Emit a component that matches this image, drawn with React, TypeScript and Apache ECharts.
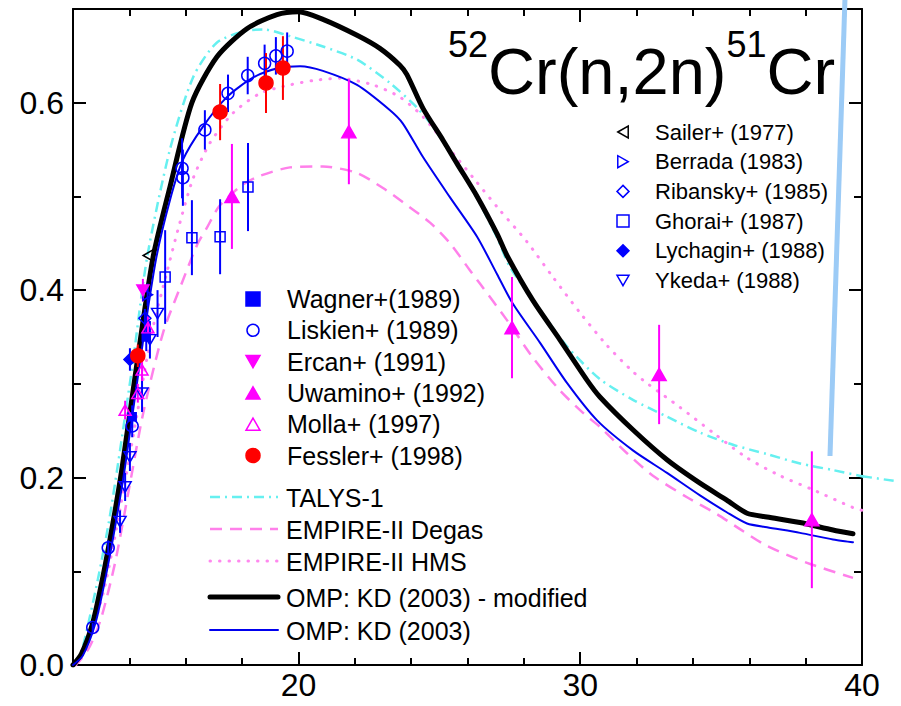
import React, { useEffect, useRef } from "react";
import * as echarts from "echarts";

const FONT = '"Liberation Sans", Arial, Helvetica, sans-serif';

// ---- axis ticks ----
const xTickMajor = [20, 30, 40];
const xTickMinor = [14, 16, 18, 22, 24, 26, 28, 32, 34, 36, 38];
const yTickMajor = [0, 0.2, 0.4, 0.6];
const yTickMinor = [0.1, 0.3, 0.5];

// ---- title ----
const titleParts = ["52", "Cr(n,2n)", "51", "Cr"];

// ---- evaluated curves [E (MeV), sigma (b)] ----
const talys = [[12.0,0],[12.3,0.015],[12.55,0.045],[12.9,0.094],[13.27,0.152],[13.6,0.215],[14.12,0.322],[14.63,0.435],[15.44,0.55],[16.26,0.627],[17.1,0.664],[18.17,0.677],[18.8,0.678],[19.7,0.671],[20.87,0.66],[22.08,0.646],[23.25,0.621],[24.2,0.595],[24.78,0.574],[25.63,0.536],[26.34,0.498],[27.05,0.456],[27.5,0.425],[28.57,0.379],[29.53,0.34],[30.7,0.305],[31.87,0.283],[33.08,0.265],[34.25,0.248],[35.42,0.235],[36.63,0.225],[37.8,0.215],[38.97,0.208],[40.0,0.2015],[41.24,0.196]];
const empireDegas = [[12.0,0],[12.2,0.003],[12.6,0.02],[13.0,0.05],[13.5,0.11],[14.0,0.19],[14.5,0.27],[15.2,0.355],[15.83,0.405],[16.4,0.448],[16.76,0.467],[17.2,0.49],[18.0,0.512],[18.64,0.522],[19.7,0.531],[20.87,0.532],[22.08,0.525],[23.0,0.509],[23.7,0.494],[24.67,0.472],[25.38,0.45],[26.09,0.421],[26.44,0.407],[27.4,0.368],[28.32,0.328],[29.28,0.293],[30.1,0.269],[30.7,0.254],[31.66,0.226],[32.58,0.202],[33.79,0.179],[34.85,0.161],[35.67,0.145],[36.63,0.127],[38.05,0.109],[39.68,0.093]];
const empireHms = [[12.1,0],[12.6,0.03],[13.1,0.08],[13.6,0.155],[14.2,0.255],[14.8,0.355],[15.34,0.42],[15.73,0.465],[16.26,0.519],[16.86,0.557],[17.68,0.589],[18.64,0.61],[19.7,0.619],[20.6,0.624],[21.47,0.626],[22.65,0.619],[23.6,0.606],[24.42,0.585],[25.38,0.55],[26.2,0.52],[27.1,0.487],[28.1,0.452],[29.03,0.414],[29.99,0.376],[30.95,0.341],[31.87,0.313],[32.4,0.3],[33.54,0.275],[34.71,0.248],[35.92,0.221],[37.09,0.202],[38.26,0.187],[39.68,0.168],[40.0,0.165]];
const ompModified = [[12.0,0],[12.3,0.012],[12.7,0.045],[13.06,0.094],[13.42,0.152],[13.74,0.21],[14.27,0.322],[14.84,0.435],[15.44,0.51],[16.22,0.6],[17.11,0.649],[18.17,0.679],[19.24,0.694],[20.0,0.697],[20.87,0.689],[22.08,0.672],[22.89,0.658],[23.6,0.64],[23.85,0.63],[24.42,0.594],[25.13,0.56],[25.63,0.535],[26.34,0.5],[27.05,0.46],[27.4,0.437],[28.32,0.389],[29.28,0.347],[30.24,0.304],[30.7,0.286],[31.87,0.251],[33.08,0.219],[34.25,0.194],[35.2,0.176],[35.92,0.162],[36.63,0.158],[37.8,0.152],[38.97,0.144],[39.68,0.14]];
const ompKd = [[12.0,0],[12.35,0.01],[12.8,0.045],[13.16,0.094],[13.52,0.152],[13.84,0.21],[14.37,0.322],[14.94,0.432],[15.44,0.496],[15.9,0.539],[16.6,0.574],[17.46,0.606],[18.4,0.627],[19.3,0.637],[20.06,0.639],[20.87,0.634],[22.08,0.619],[23.25,0.592],[23.7,0.578],[24.42,0.542],[25.38,0.499],[26.34,0.457],[27.05,0.417],[27.6,0.386],[28.57,0.344],[29.53,0.301],[30.6,0.261],[31.87,0.229],[33.08,0.205],[34.25,0.181],[35.2,0.163],[35.92,0.151],[36.63,0.147],[37.8,0.141],[38.97,0.134],[39.68,0.131]];

// ---- measurements [E, sigma, error] ----
const sailer = [[14.66, 0.437, 0]];
const berrada = [[14.65, 0.395, 0.012]];
const ribansky = [[14.55, 0.37, 0.01]];
const ghorai = [[15.27, 0.414, 0.05],[16.22, 0.456, 0.04],[17.22, 0.457, 0.04],[18.21, 0.51, 0.047]];
const lychagin = [[14.02, 0.326, 0.012]];
const ykeda = [[13.67, 0.153, 0.012],[13.85, 0.19, 0.015],[14.02, 0.222, 0.015],[14.45, 0.29, 0.02],[14.73, 0.347, 0.02],[15.0, 0.375, 0.025]];
const wagner = [[14.1, 0.265, 0.012],[14.6, 0.35, 0.015]];
const liskien = [[12.7, 0.04, 0.005],[13.25, 0.125, 0.008],[14.1, 0.255, 0.012],[15.87, 0.53, 0.032],[15.9, 0.52, 0.03],[16.68, 0.571, 0.021],[17.5, 0.61, 0.02],[18.2, 0.629, 0.02],[18.8, 0.642, 0.02],[19.2, 0.65, 0.02],[19.6, 0.655, 0.02]];
const ercan = [[14.48, 0.4, 0.012]];
const uwamino = [[17.64, 0.5, 0.056],[21.79, 0.569, 0.056],[27.58, 0.36, 0.054],[32.8, 0.31, 0.053],[38.22, 0.155, 0.073]];
const molla = [[13.85, 0.272, 0.01],[14.3, 0.29, 0.01],[14.45, 0.315, 0.012],[14.66, 0.36, 0.012]];
const fessler = [[14.3, 0.33, 0.012],[17.22, 0.59, 0.03],[18.85, 0.621, 0.032],[19.45, 0.637, 0.034]];

// ---- legend labels ----
const rightLegendNames = ["Sailer+ (1977)", "Berrada (1983)", "Ribansky+ (1985)", "Ghorai+ (1987)", "Lychagin+ (1988)", "Ykeda+ (1988)"];
const leftLegendNames = ["Wagner+(1989)", "Liskien+ (1989)", "Ercan+ (1991)", "Uwamino+ (1992)", "Molla+ (1997)", "Fessler+ (1998)"];
const curveNames = ["TALYS-1", "EMPIRE-II Degas", "EMPIRE-II HMS", "OMP: KD (2003) - modified", "OMP: KD (2003)"];

const BLUE = "#0000ff";
const MAG = "#ff00ff";
const RED = "#ff0000";

type Shape = "circle" | "square" | "diamond" | "triUp" | "triDown" | "triLeft" | "triRight";

const expSets: { name: string; data: number[][]; shape: Shape; filled: boolean; color: string; size: number }[] = [
  { name: rightLegendNames[0], data: sailer, shape: "triLeft", filled: false, color: "#000000", size: 11 },
  { name: rightLegendNames[1], data: berrada, shape: "triRight", filled: false, color: BLUE, size: 11 },
  { name: rightLegendNames[2], data: ribansky, shape: "diamond", filled: false, color: BLUE, size: 12 },
  { name: rightLegendNames[3], data: ghorai, shape: "square", filled: false, color: BLUE, size: 10 },
  { name: rightLegendNames[4], data: lychagin, shape: "diamond", filled: true, color: BLUE, size: 12 },
  { name: rightLegendNames[5], data: ykeda, shape: "triDown", filled: false, color: BLUE, size: 12 },
  { name: leftLegendNames[0], data: wagner, shape: "square", filled: true, color: BLUE, size: 8 },
  { name: leftLegendNames[1], data: liskien, shape: "circle", filled: false, color: BLUE, size: 12 },
  { name: leftLegendNames[2], data: ercan, shape: "triDown", filled: true, color: MAG, size: 12 },
  { name: leftLegendNames[3], data: uwamino, shape: "triUp", filled: true, color: MAG, size: 14 },
  { name: leftLegendNames[4], data: molla, shape: "triUp", filled: false, color: MAG, size: 12 },
  { name: leftLegendNames[5], data: fessler, shape: "circle", filled: true, color: RED, size: 14 },
];

const curveSets = [
  { name: curveNames[0], data: talys, color: "#66f0f0", width: 2.5, dash: [10, 5, 2, 5] as any, cap: "butt" },
  { name: curveNames[1], data: empireDegas, color: "#ff80ea", width: 2.5, dash: [12, 8] as any, cap: "butt" },
  { name: curveNames[2], data: empireHms, color: "#ff88ee", width: 3, dash: [0.5, 9] as any, cap: "round" },
  { name: curveNames[3], data: ompModified, color: "#000000", width: 5, dash: "solid" as any, cap: "round" },
  { name: curveNames[4], data: ompKd, color: "#0000ee", width: 2, dash: "solid" as any, cap: "round" },
];

function ecSymbol(shape: Shape): { symbol: string; rotate: number; wr: number } {
  switch (shape) {
    case "circle": return { symbol: "circle", rotate: 0, wr: 1 };
    case "square": return { symbol: "rect", rotate: 0, wr: 1 };
    case "diamond": return { symbol: "diamond", rotate: 0, wr: 1 };
    case "triUp": return { symbol: "triangle", rotate: 0, wr: 0.87 };
    case "triDown": return { symbol: "triangle", rotate: 180, wr: 0.87 };
    case "triLeft": return { symbol: "triangle", rotate: 90, wr: 0.87 };
    case "triRight": return { symbol: "triangle", rotate: -90, wr: 0.87 };
  }
}

function legendSymbol(shape: Shape, filled: boolean, color: string, cx: number, cy: number, s: number) {
  const style = { fill: filled ? color : "rgba(0,0,0,0)", stroke: color, lineWidth: 1.5 };
  const h = s * 0.87;
  const r = s / 2;
  if (shape === "circle") return { type: "circle", shape: { cx, cy, r }, style, z: 50 };
  if (shape === "square") return { type: "rect", shape: { x: cx - r, y: cy - r, width: s, height: s }, style, z: 50 };
  let pts: number[][] = [];
  if (shape === "diamond") pts = [[cx, cy - r], [cx + r, cy], [cx, cy + r], [cx - r, cy]];
  if (shape === "triUp") pts = [[cx, cy - h / 2], [cx + r, cy + h / 2], [cx - r, cy + h / 2]];
  if (shape === "triDown") pts = [[cx, cy + h / 2], [cx + r, cy - h / 2], [cx - r, cy - h / 2]];
  if (shape === "triLeft") pts = [[cx - h / 2, cy], [cx + h / 2, cy - r], [cx + h / 2, cy + r]];
  if (shape === "triRight") pts = [[cx + h / 2, cy], [cx - h / 2, cy - r], [cx - h / 2, cy + r]];
  return { type: "polygon", shape: { points: pts }, style, z: 50 };
}

function textEl(text: string, x: number, y: number, size: number) {
  return {
    type: "text", x, y, z: 50,
    style: { text, fontSize: size, fontFamily: FONT, fill: "#000", align: "left", verticalAlign: "middle", textAlign: "left", textVerticalAlign: "middle" },
  };
}

export default function App() {
  const ref = useRef<HTMLDivElement>(null);
  useEffect(() => {
    if (!ref.current) return;
    const chart = echarts.init(ref.current, undefined, { renderer: "svg" });

    const axisLineStyle = { color: "#000", width: 2 };
    const xBase = { type: "value", min: 12, max: 40, splitLine: { show: false }, gridIndex: 0 };
    const yBase = { type: "value", min: 0, max: 0.7, splitLine: { show: false }, gridIndex: 0 };
    const tick = (vals: number[], len: number) => ({ show: true, inside: true, length: len, customValues: vals, lineStyle: { color: "#000", width: 2 } });

    const xAxis = [
      { ...xBase, position: "bottom", axisLine: { show: true, onZero: false, lineStyle: axisLineStyle }, axisTick: tick(xTickMajor, 13),
        axisLabel: { show: true, customValues: xTickMajor, fontSize: 32, fontFamily: FONT, color: "#000", margin: 4, formatter: (v: number) => String(v) } },
      { ...xBase, position: "bottom", axisLine: { show: false, onZero: false }, axisTick: tick(xTickMinor, 7), axisLabel: { show: false } },
      { ...xBase, position: "top", axisLine: { show: true, onZero: false, lineStyle: axisLineStyle }, axisTick: tick(xTickMajor, 13), axisLabel: { show: false } },
      { ...xBase, position: "top", axisLine: { show: false, onZero: false }, axisTick: tick(xTickMinor, 7), axisLabel: { show: false } },
    ];
    const yAxis = [
      { ...yBase, position: "left", axisLine: { show: true, onZero: false, lineStyle: axisLineStyle }, axisTick: tick(yTickMajor, 13),
        axisLabel: { show: true, customValues: yTickMajor, fontSize: 32, fontFamily: FONT, color: "#000", margin: 9, formatter: (v: number) => v.toFixed(1) } },
      { ...yBase, position: "left", axisLine: { show: false, onZero: false }, axisTick: tick(yTickMinor, 8), axisLabel: { show: false } },
      { ...yBase, position: "right", axisLine: { show: true, onZero: false, lineStyle: axisLineStyle }, axisTick: tick(yTickMajor, 13), axisLabel: { show: false } },
      { ...yBase, position: "right", axisLine: { show: false, onZero: false }, axisTick: tick(yTickMinor, 8), axisLabel: { show: false } },
    ];

    const series: any[] = [];
    curveSets.forEach((c) => {
      series.push({
        type: "line", name: c.name, data: c.data, xAxisIndex: 0, yAxisIndex: 0,
        showSymbol: false, symbol: "none", smooth: 0.25, clip: true, z: 2,
        lineStyle: { color: c.color, width: c.width, type: c.dash, cap: c.cap, join: "round" },
      });
    });
    expSets.forEach((s) => {
      series.push({
        type: "custom", name: s.name + " err", data: s.data, xAxisIndex: 0, yAxisIndex: 0, silent: true, z: 4,
        encode: { x: 0, y: 1 },
        renderItem: (_p: any, api: any) => {
          const x = api.value(0), y = api.value(1), e = api.value(2);
          if (!e) return { type: "group", children: [] };
          const p1 = api.coord([x, y - e]);
          const p2 = api.coord([x, y + e]);
          return { type: "line", shape: { x1: p1[0], y1: p1[1], x2: p2[0], y2: p2[1] }, style: { stroke: s.color, lineWidth: 2 } };
        },
      });
    });
    expSets.forEach((s) => {
      const m = ecSymbol(s.shape);
      series.push({
        type: "scatter", name: s.name, data: s.data.map((d) => [d[0], d[1]]), xAxisIndex: 0, yAxisIndex: 0, z: 5,
        symbol: m.symbol, symbolRotate: m.rotate, symbolSize: [s.size, s.size * m.wr],
        itemStyle: { color: s.filled ? s.color : "rgba(0,0,0,0)", borderColor: s.color, borderWidth: 1.5, opacity: 1 },
      });
    });

    // graphic: title, legends, stripe
    const graphic: any[] = [];
    const ctx = document.createElement("canvas").getContext("2d")!;
    const supSize = 36, mainSize = 65;
    let tx = 448;
    titleParts.forEach((t, i) => {
      const sz = i % 2 === 0 ? supSize : mainSize;
      ctx.font = `${sz}px ${FONT}`;
      const w = ctx.measureText(t).width;
      graphic.push({
        type: "text", x: tx, y: i % 2 === 0 ? 44 : 71, z: 50,
        style: { text: t, fontSize: sz, fontFamily: FONT, fill: "#000", align: "left", verticalAlign: "middle", textAlign: "left", textVerticalAlign: "middle" },
      });
      tx += w;
    });

    // right legend (first six sets)
    expSets.slice(0, 6).forEach((s, i) => {
      const cy = 132 + i * 29.7;
      graphic.push(legendSymbol(s.shape, s.filled, s.color, 623, cy, 12));
      graphic.push(textEl(s.name, 655, cy, 22));
    });
    // left legend (last six sets)
    expSets.slice(6).forEach((s, i) => {
      const cy = 299 + i * 31.3;
      graphic.push(legendSymbol(s.shape, s.filled, s.color, 253, cy, s.shape === "circle" && !s.filled ? 12 : 14));
      graphic.push(textEl(s.name, 287, cy, 25));
    });
    // curve legend
    const curveRowY = [497, 529, 561, 597, 630];
    curveSets.forEach((c, i) => {
      const cy = curveRowY[i];
      graphic.push({
        type: "line", z: 50, shape: { x1: 210, y1: cy, x2: 278, y2: cy },
        style: { stroke: c.color, lineWidth: c.width, lineDash: c.dash === "solid" ? null : c.dash, lineCap: c.cap },
      });
      graphic.push(textEl(c.name, 286, cy + 1, 25));
    });
    // light blue stripe at top right
    graphic.push({ type: "line", z: 100, shape: { x1: 845, y1: -2, x2: 830, y2: 456 }, style: { stroke: "#9ccbf6", lineWidth: 5 } });

    chart.setOption({
      animation: false,
      backgroundColor: "#ffffff",
      grid: { left: 73, right: 39, top: 9, bottom: 41, containLabel: false },
      xAxis, yAxis, series, graphic,
    });

    // TALYS-1 runs past the right frame in the reference: draw that part through the axis scale
    const overflow = talys.filter((d) => d[0] >= 40).map((d) => chart.convertToPixel({ xAxisIndex: 0, yAxisIndex: 0 }, d) as number[]);
    chart.setOption({
      graphic: [...graphic, {
        type: "polyline", z: 2, shape: { points: overflow },
        style: { stroke: curveSets[0].color, lineWidth: curveSets[0].width, lineDash: curveSets[0].dash, fill: null },
      }],
    });
    return () => chart.dispose();
  }, []);
  return <div ref={ref} style={{ position: "fixed", left: 0, top: 0, width: 901, height: 706, background: "#fff" }} />;
}
